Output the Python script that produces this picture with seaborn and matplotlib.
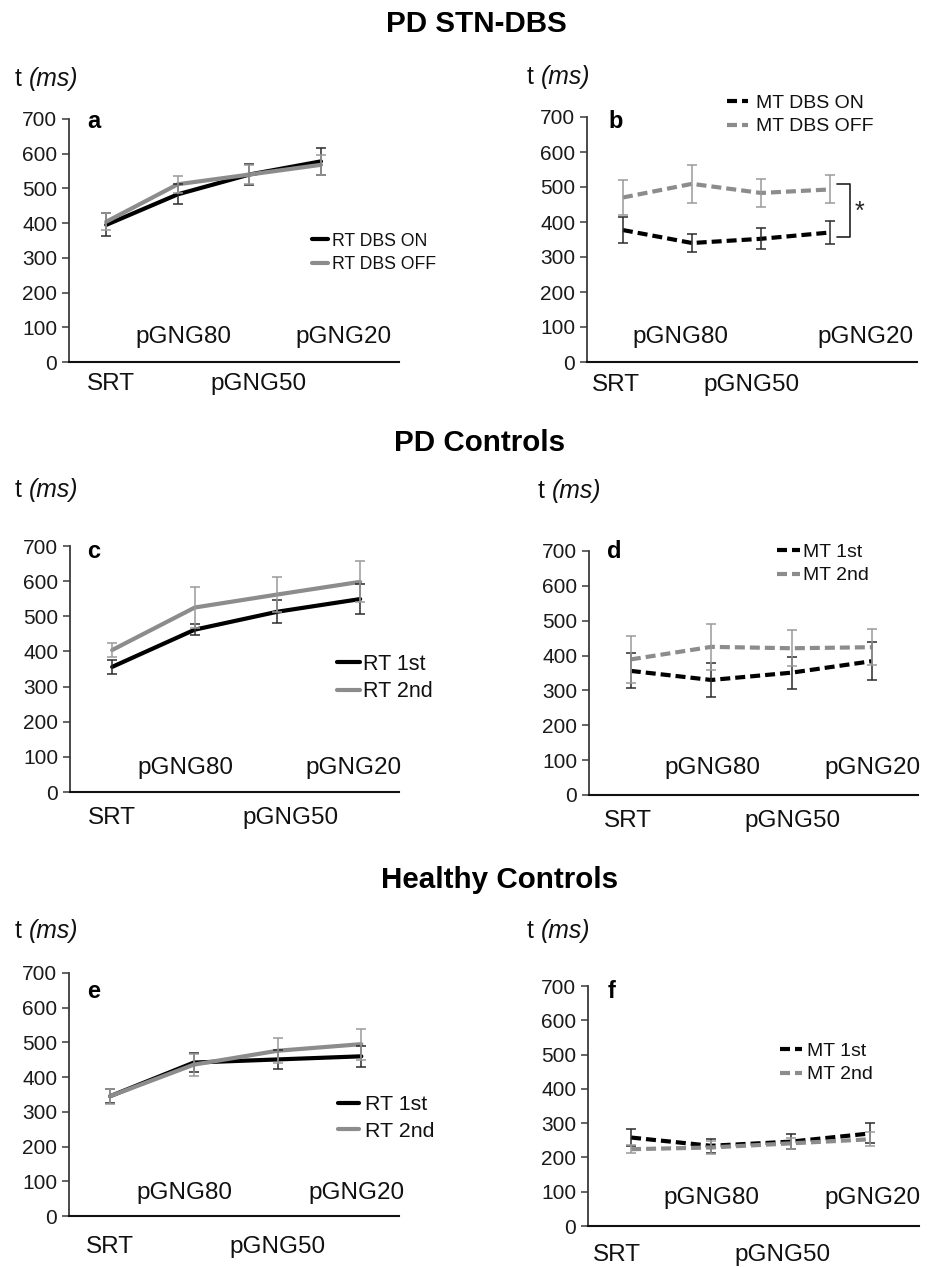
import numpy as np
import pandas as pd
import matplotlib
matplotlib.use("Agg")
import matplotlib.pyplot as plt
import seaborn as sns

sns.set_style("ticks")
plt.rcParams['font.family'] = ['Liberation Sans', 'DejaVu Sans']
plt.rcParams['text.color'] = '#000000'

conditions = ["SRT", "pGNG80", "pGNG50", "pGNG20"]

# a: PD STN-DBS, reaction time
rt_dbs_on = [395, 483, 540, 578]
rt_dbs_on_err = [33, 29, 30, 38]
rt_dbs_off = [404, 512, 540, 568]
rt_dbs_off_err = [25, 25, 28, 28]

# b: PD STN-DBS, movement time
mt_dbs_on = [377, 340, 352, 370]
mt_dbs_on_err = [38, 27, 30, 32]
mt_dbs_off = [470, 509, 483, 493]
mt_dbs_off_err = [50, 54, 39, 40]

# c: PD controls, reaction time
rt_pdc_1st = [356, 462, 513, 549]
rt_pdc_1st_err = [21, 15, 33, 42]
rt_pdc_2nd = [404, 525, 562, 598]
rt_pdc_2nd_err = [21, 58, 50, 58]

# d: PD controls, movement time
mt_pdc_1st = [356, 330, 351, 384]
mt_pdc_1st_err = [50, 48, 46, 55]
mt_pdc_2nd = [389, 425, 421, 424]
mt_pdc_2nd_err = [68, 65, 52, 51]

# e: healthy controls, reaction time
rt_hc_1st = [345, 442, 451, 460]
rt_hc_1st_err = [20, 28, 27, 30]
rt_hc_2nd = [345, 436, 476, 495]
rt_hc_2nd_err = [21, 32, 36, 45]

# f: healthy controls, movement time
mt_hc_1st = [258, 234, 246, 270]
mt_hc_1st_err = [26, 20, 21, 29]
mt_hc_2nd = [224, 229, 241, 253]
mt_hc_2nd_err = [12, 20, 17, 20]

W, H = 936, 1267
fig = plt.figure(figsize=(W / 100, H / 100), dpi=100)


def px_axes(xl, xr, yt, yb):
    return fig.add_axes([xl / W, 1 - yb / H, (xr - xl) / W, (yb - yt) / H])


panels = [
    # box in px, xlim, series, legend (x, ymid, fs, handle px, pad px, gap px),
    # label offsets, (up, down) px, t-label (x, baseline), letter pos
    dict(letter="a", box=(69, 399, 119, 362), xlim=(-0.52, 4.09),
         s=[("RT DBS ON", rt_dbs_on, rt_dbs_on_err), ("RT DBS OFF", rt_dbs_off, rt_dbs_off_err)],
         dashed=False, leg=(312, 253, 12.7, 16, 4, 27),
         loff=[0.06, 0.08, 0.13, 0.32], ud=(25, 22), tl=(15, 86), let=(87, 122)),
    dict(letter="b", box=(587, 917, 117, 362), xlim=(-0.52, 4.26),
         s=[("MT DBS ON", mt_dbs_on, mt_dbs_on_err), ("MT DBS OFF", mt_dbs_off, mt_dbs_off_err)],
         dashed=True, leg=(727, 115, 14, 21, 8, 28),
         loff=[-0.1, -0.16, -0.14, 0.51], ud=(25, 23), tl=(527, 84), let=(608, 122)),
    dict(letter="c", box=(70, 399, 546, 792), xlim=(-0.51, 3.47),
         s=[("RT 1st", rt_pdc_1st, rt_pdc_1st_err), ("RT 2nd", rt_pdc_2nd, rt_pdc_2nd_err)],
         dashed=False, leg=(337, 678, 15.5, 23, 3, 31),
         loff=[0.0, -0.11, 0.16, -0.08], ud=(24, 26), tl=(15, 497), let=(87, 552)),
    dict(letter="d", box=(589, 918, 551, 795), xlim=(-0.52, 3.57),
         s=[("MT 1st", mt_pdc_1st, mt_pdc_1st_err), ("MT 2nd", mt_pdc_2nd, mt_pdc_2nd_err)],
         dashed=True, leg=(777, 564, 14, 23, 3, 28),
         loff=[-0.04, 0.01, 0.01, 0.01], ud=(27, 26), tl=(538, 498), let=(607, 551)),
    dict(letter="e", box=(69, 399, 973, 1216), xlim=(-0.49, 3.45),
         s=[("RT 1st", rt_hc_1st, rt_hc_1st_err), ("RT 2nd", rt_hc_2nd, rt_hc_2nd_err)],
         dashed=False, leg=(338, 1118, 15.4, 21, 6, 32),
         loff=[0.0, -0.11, 0.0, -0.06], ud=(23, 31), tl=(15, 938), let=(87, 991)),
    dict(letter="f", box=(588, 919, 986, 1226), xlim=(-0.54, 3.61),
         s=[("MT 1st", mt_hc_1st, mt_hc_1st_err), ("MT 2nd", mt_hc_2nd, mt_hc_2nd_err)],
         dashed=True, leg=(780, 1063, 14, 22, 5, 28),
         loff=[-0.18, 0.01, -0.1, 0.03], ud=(28, 29), tl=(527, 938), let=(608, 992)),
]

line_cols = ["#000000", "#8c8c8c"]
err_cols = ["#2b2b2b", "#9a9a9a"]

for p in panels:
    ax = px_axes(*p["box"])
    rows = []
    for name, vals, errs in p["s"]:
        for i, v in enumerate(vals):
            rows.append({"x": i, "t": v, "series": name})
    df = pd.DataFrame(rows)
    names = [s[0] for s in p["s"]]
    pal = dict(zip(names, line_cols))
    if p["dashed"]:
        dsh = {n: (2.4, 1.2) for n in names}
    else:
        dsh = {n: "" for n in names}
    sns.lineplot(data=df, x="x", y="t", hue="series", style="series",
                 palette=pal, dashes=dsh, linewidth=3.0, legend=False,
                 ax=ax, zorder=3)
    handles = list(ax.lines[:2])
    for k, (name, vals, errs) in enumerate(p["s"]):
        ax.errorbar(range(len(vals)), vals, yerr=errs, fmt="none",
                    ecolor=err_cols[k], elinewidth=1.1, capsize=3.8,
                    capthick=1.1, zorder=4)

    ax.set_xlim(*p["xlim"])
    ax.set_ylim(0, 700)
    ax.set_yticks(range(0, 701, 100))
    ax.set_xticks([])
    ax.set_xlabel("")
    ax.set_ylabel("")
    for side in ["top", "right"]:
        ax.spines[side].set_visible(False)
    ax.spines["left"].set_color("#3a3a3a")
    ax.spines["left"].set_linewidth(1.3)
    ax.spines["bottom"].set_color("#111111")
    ax.spines["bottom"].set_linewidth(1.5)
    ax.tick_params(axis="y", labelsize=15, length=5, width=1.1,
                   color="#3a3a3a", labelcolor="#1a1a1a", pad=3.5)
    ax.patch.set_alpha(0)

    # staggered category labels
    up, down = p["ud"]
    for i, lab in enumerate(conditions):
        dy = -down if i % 2 == 0 else up
        ax.annotate(lab, xy=(i + p["loff"][i], 0), xycoords="data",
                    xytext=(0, dy), textcoords="offset pixels",
                    ha="center", va="center", fontsize=17.5, color="#111111",
                    annotation_clip=False)

    # legend
    lx, lymid, fs, hpx, tpx, gap = p["leg"]
    fpx = fs * 100 / 72
    leg = ax.legend(handles, names, loc="center left",
                    bbox_to_anchor=(lx / W, 1 - lymid / H), bbox_transform=fig.transFigure,
                    frameon=False, borderpad=0, borderaxespad=0, fontsize=fs,
                    handlelength=hpx / fpx, handletextpad=tpx / fpx,
                    labelspacing=max(gap / fpx - 1.15, 0.05))
    for t in leg.get_texts():
        t.set_color("#111111")

    # panel letter
    lx0, ly0 = p["let"]
    fig.text(lx0 / W, 1 - ly0 / H, p["letter"], fontsize=17, fontweight="bold",
             ha="left", va="center")

    # y unit label
    tx, tb = p["tl"]
    fig.text(tx / W, 1 - tb / H, "t", fontsize=17.8, ha="left", va="baseline",
             color="#111111")
    fig.text((tx + 14) / W, 1 - tb / H, "(ms)", fontsize=17.8, style="italic",
             ha="left", va="baseline", color="#111111")

    if p["letter"] == "b":
        # significance bracket between DBS ON and OFF
        br_x0, br_x1 = 3.1, 3.29
        br_top, br_bot = 509, 358
        ax.plot([br_x0, br_x1, br_x1, br_x0], [br_top, br_top, br_bot, br_bot],
                color="#222222", linewidth=1.2, clip_on=False)
        ax.text(3.43, 430, "*", fontsize=18, ha="center", va="center",
                color="#222222", clip_on=False)

for title, cx, yb in [("PD STN-DBS", 476, 32), ("PD Controls", 480, 451),
                      ("Healthy Controls", 500, 888)]:
    fig.text(cx / W, 1 - yb / H, title, fontsize=21.3, fontweight="bold",
             ha="center", va="baseline", color="#000000")

fig.savefig("out.png", dpi=100)
